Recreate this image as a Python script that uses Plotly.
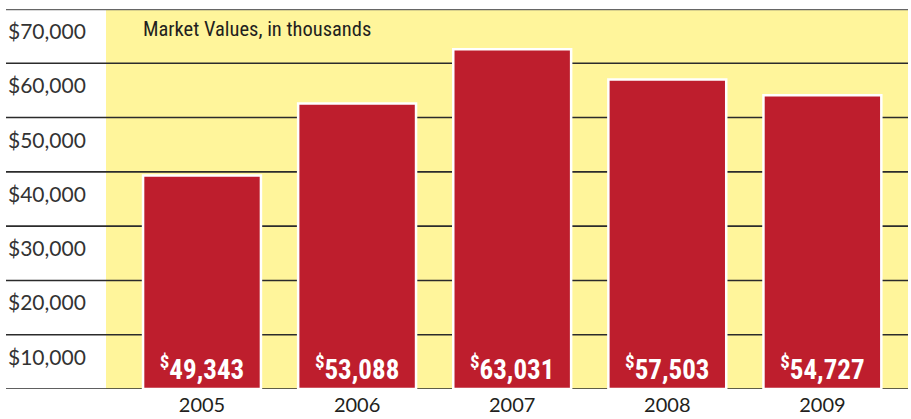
import plotly.graph_objects as go

years = ["2005", "2006", "2007", "2008", "2009"]
bar_heights = [39343, 52600, 62600, 57000, 54100]  # as drawn against the axis
label_values = [49343, 53088, 63031, 57503, 54727]  # printed inside the bars
y_ticks = [10000, 20000, 30000, 40000, 50000, 60000, 70000]
title_text = "Market Values, in thousands"

W, H = 911, 419
ML, MR, MT, MB = 106, 3, 9, 26
plot_w = W - ML - MR

COND = "Roboto Condensed, Liberation Sans Narrow, DejaVu Sans Condensed, Roboto"
REG = "Lato, Open Sans, sans-serif"

labels = ["<sup>$</sup>{:,}".format(v) for v in label_values]

fig = go.Figure(go.Bar(
    x=years, y=bar_heights,
    text=labels, textposition="inside", insidetextanchor="start",
    textfont=dict(family=COND, size=27, color="white", weight="bold"),
    marker=dict(color="#BE1E2D", line=dict(color="white", width=2.5)),
    width=0.76, hoverinfo="skip", cliponaxis=False,
))

left_paper = (6 - ML) / plot_w
shapes = []
for v in [0] + y_ticks:
    top = v == max(y_ticks)
    shapes.append(dict(type="line", xref="paper", yref="y", x0=left_paper, x1=1,
                       y0=v, y1=v, layer="below",
                       line=dict(color="#666" if top else "#2b2b2b", width=2.5 if top else 1.6)))

annotations = []
for v in y_ticks:
    annotations.append(dict(xref="paper", yref="y", x=left_paper, y=v, xanchor="left",
                            yanchor="top", yshift=-7, showarrow=False,
                            text="${:,}".format(v),
                            font=dict(family=REG, size=21, color="#333")))
annotations.append(dict(xref="paper", yref="paper", x=(141 - ML) / plot_w, y=1,
                        xanchor="left", yanchor="top", yshift=-6, showarrow=False,
                        text=title_text, font=dict(family=COND, size=20.5, color="#231f20")))

fig.update_layout(
    width=W, height=H, margin=dict(l=ML, r=MR, t=MT, b=MB),
    paper_bgcolor="white", plot_bgcolor="#FFF59B",
    showlegend=False, shapes=shapes, annotations=annotations,
    xaxis=dict(type="category", range=[-0.619, 4.552], showgrid=False, zeroline=False,
               showline=False, ticks="", ticklabelstandoff=2,
               tickfont=dict(family=REG, size=20, color="#231f20")),
    yaxis=dict(range=[0, 70000], showgrid=False, zeroline=False, showticklabels=False,
               showline=False),
)

fig.write_html("out.html", config={"displayModeBar": False},
               post_script="document.body.style.margin='0';document.body.style.overflow='hidden';")
